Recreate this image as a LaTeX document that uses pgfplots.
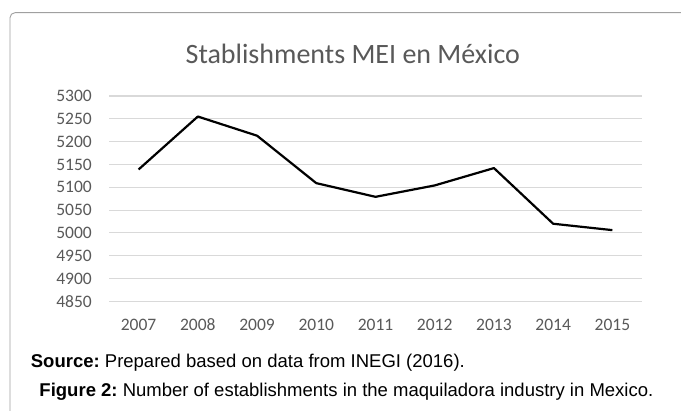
\documentclass[border=0pt]{standalone}
\usepackage{pgfplots}
\pgfplotsset{compat=1.18}
\usepackage{fontspec}
\setmainfont{Liberation Sans}
\newfontfamily\carlito{Carlito}
\definecolor{txtgray}{RGB}{89,89,89}
\definecolor{gridgray}{RGB}{217,217,217}
\definecolor{boxgray}{RGB}{160,160,160}

\begin{document}
\begin{tikzpicture}[x=1bp,y=1bp]
\useasboundingbox (0,0) rectangle (681,410);
\fill[white] (0,0) rectangle (681,410);
\draw[boxgray, line width=0.9bp, rounded corners=5bp] (10,-20) -- (10,397.3) -- (720,397.3);
\node[anchor=base, font=\carlito\fontsize{28bp}{30bp}\selectfont, text=txtgray, inner sep=0pt] at (352.8,346.7) {Stablishments MEI en México};
\begin{axis}[
  at={(109bp,108.7bp)}, anchor=south west,
  scale only axis, width=533bp, height=205.3bp,
  xmin=-0.5, xmax=8.5, ymin=4850, ymax=5300,
  xtick={0,...,8},
  xticklabels={2007,2008,2009,2010,2011,2012,2013,2014,2015},
  ytick={4850,4900,4950,5000,5050,5100,5150,5200,5250,5300},
  yticklabels={4850,4900,4950,5000,5050,5100,5150,5200,5250,5300},
  axis line style={draw=none},
  major tick length=0pt,
  ymajorgrids,
  major grid style={gridgray, line width=1.1bp},
  tick label style={font=\carlito\fontsize{17.5bp}{19bp}\selectfont, text=txtgray, inner sep=0pt},
  yticklabel style={anchor=east, xshift=-17bp},
  xticklabel style={anchor=north, yshift=-17.5bp},
  clip=false,
]
\addplot[black, line width=2.2bp, line join=round] coordinates {
  (0,5139) (1,5255) (2,5213) (3,5109) (4,5079) (5,5104) (6,5142) (7,5020) (8,5006)
};
\end{axis}
\node[anchor=base west, font=\fontsize{18.5bp}{20bp}\selectfont, inner sep=0pt] at (30.7,43) {\textbf{Source:}~Prepared based on data from INEGI (2016).};
\node[anchor=base west, font=\fontsize{18.5bp}{20bp}\selectfont, inner sep=0pt] at (39.3,13.3) {\textbf{Figure 2:}~Number of establishments in the maquiladora industry in Mexico.};
\end{tikzpicture}
\end{document}
